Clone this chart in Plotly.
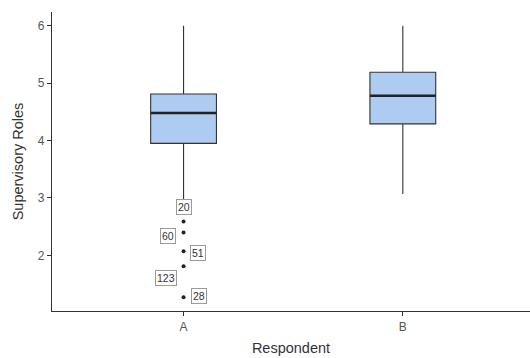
import plotly.graph_objects as go

# ---- data ----
categories = ["A", "B"]
q1 = [3.95, 4.29]
medians = [4.48, 4.78]
q3 = [4.81, 5.19]
lower_whisker = [2.97, 3.07]
upper_whisker = [6.0, 6.0]

outlier_ids = ["20", "60", "51", "123", "28"]
outlier_values = [2.59, 2.40, 2.07, 1.81, 1.27]
outlier_group = ["A", "A", "A", "A", "A"]

# label placement offsets (pixels) -- layout only
label_dx = [0, -16, 14, -18, 15]
label_dy = [14, -4, -2, -12, 1]

FONT = "Liberation Sans, Arial, sans-serif"
FILL = "#aecbf2"
LINE = "#333333"
BOX_W = 0.3

xpos = list(range(len(categories)))

fig = go.Figure()
fig.add_trace(go.Box(
    x=xpos, q1=q1, median=medians, q3=q3,
    lowerfence=lower_whisker, upperfence=upper_whisker,
    width=BOX_W, whiskerwidth=0,
    fillcolor=FILL, line=dict(color=LINE, width=1.1),
    boxpoints=False, showlegend=False, hoverinfo="skip",
))

# thicker median lines (ggplot style)
for xi, m in zip(xpos, medians):
    fig.add_trace(go.Scatter(
        x=[xi - BOX_W / 2, xi + BOX_W / 2], y=[m, m], mode="lines",
        line=dict(color="#222222", width=2.6), showlegend=False, hoverinfo="skip",
    ))

ox = [categories.index(g) for g in outlier_group]
fig.add_trace(go.Scatter(
    x=ox, y=outlier_values, mode="markers",
    marker=dict(color="#222222", size=4), showlegend=False,
))

for xi, yv, lab, dx, dy in zip(ox, outlier_values, outlier_ids, label_dx, label_dy):
    fig.add_annotation(
        x=xi, y=yv, text=lab, showarrow=False, xshift=dx, yshift=dy,
        font=dict(family=FONT, size=10.5, color="#333333"),
        bgcolor="white", bordercolor="#9a9a9a", borderwidth=1, borderpad=1,
    )

fig.update_layout(
    width=530, height=358,
    margin=dict(l=52, r=0, t=12, b=47),
    paper_bgcolor="white", plot_bgcolor="white",
    font=dict(family=FONT),
)
fig.update_xaxes(
    range=[-0.6, 1.58], tickvals=xpos, ticktext=categories,
    showline=True, linecolor="#333333", linewidth=1.2,
    ticks="outside", ticklen=4, tickcolor="#333333", tickwidth=1,
    showgrid=False, zeroline=False, automargin=False,
    tickfont=dict(family=FONT, size=12, color="#555555"),
    title=dict(text="Respondent", font=dict(family=FONT, size=14.5, color="#333333"), standoff=10),
)
fig.update_yaxes(
    range=[1.03, 6.24], tickvals=[2, 3, 4, 5, 6],
    showline=True, linecolor="#333333", linewidth=1.2,
    ticks="outside", ticklen=4, tickcolor="#333333", tickwidth=1,
    showgrid=False, zeroline=False, automargin=False,
    tickfont=dict(family=FONT, size=12, color="#555555"),
    title=dict(text="Supervisory Roles", font=dict(family=FONT, size=14.5, color="#333333"), standoff=10),
)

fig.write_html("out.html", config={"displayModeBar": False},
               post_script="document.body.style.margin='0px';")
